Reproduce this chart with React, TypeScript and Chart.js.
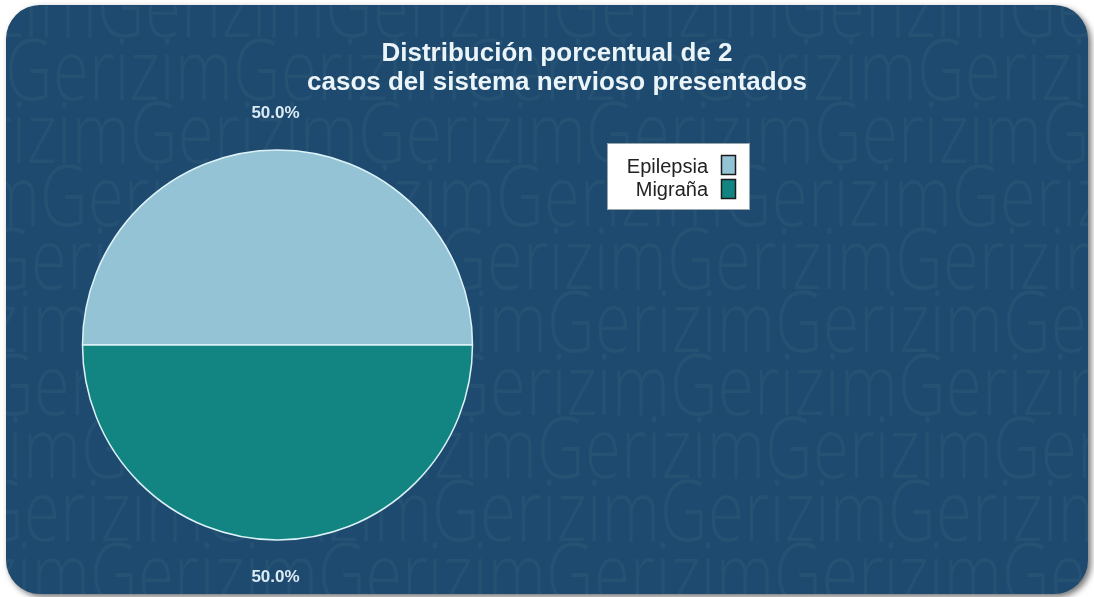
import React, { useEffect, useRef } from "react";
import { Chart, registerables } from "chart.js";

Chart.register(...registerables);

const categories = ["Epilepsia", "Migraña"];
const caseCounts = [1, 1];
const sliceColors = ["#93c3d4", "#128583"];
const titleLines = ["Distribución porcentual de 2", "casos del sistema nervioso presentados"];
const watermarkWord = "Gerizim";
const watermarkRowOffsets = [97, 5, 130, 40, 211, 91, 214, 81, 204, 90];

const W = 1094;
const H = 597;
const PANEL = { x: 6, y: 5, w: 1082, h: 589, r: 34 };

function roundRect(ctx: CanvasRenderingContext2D, x: number, y: number, w: number, h: number, r: number) {
  ctx.beginPath();
  ctx.moveTo(x + r, y);
  ctx.lineTo(x + w - r, y);
  ctx.arcTo(x + w, y, x + w, y + r, r);
  ctx.lineTo(x + w, y + h - r);
  ctx.arcTo(x + w, y + h, x + w - r, y + h, r);
  ctx.lineTo(x + r, y + h);
  ctx.arcTo(x, y + h, x, y + h - r, r);
  ctx.lineTo(x, y + r);
  ctx.arcTo(x, y, x + r, y, r);
  ctx.closePath();
}

const backgroundPlugin = {
  id: "panelBackground",
  beforeDraw(chart: any) {
    const ctx: CanvasRenderingContext2D = chart.ctx;
    ctx.save();
    ctx.fillStyle = "#ffffff";
    ctx.fillRect(0, 0, W, H);
    ctx.shadowColor = "rgba(0,0,0,0.55)";
    ctx.shadowBlur = 6;
    ctx.shadowOffsetX = 3;
    ctx.shadowOffsetY = 3;
    roundRect(ctx, PANEL.x, PANEL.y, PANEL.w, PANEL.h, PANEL.r);
    ctx.fillStyle = "#1d4a6e";
    ctx.fill();
    ctx.restore();

    // watermark
    ctx.save();
    roundRect(ctx, PANEL.x, PANEL.y, PANEL.w, PANEL.h, PANEL.r);
    ctx.clip();
    ctx.font = "300 84px 'Open Sans', 'Liberation Sans', sans-serif";
    ctx.fillStyle = "rgba(255,255,255,0.04)";
    ctx.textBaseline = "alphabetic";
    ctx.textAlign = "left";
    const period = 228;
    const sx = period / ctx.measureText(watermarkWord).width;
    watermarkRowOffsets.forEach((off, k) => {
      const y = 37 + 63 * k;
      for (let x = off - period * 2; x < W + period; x += period) {
        ctx.save();
        ctx.translate(x, y);
        ctx.scale(sx, 1);
        ctx.fillText(watermarkWord, 0, 0);
        ctx.restore();
      }
    });
    ctx.restore();

    // title
    ctx.save();
    ctx.font = "bold 26px 'Liberation Sans', Arial, sans-serif";
    ctx.fillStyle = "#eaf4f9";
    ctx.textAlign = "center";
    ctx.textBaseline = "alphabetic";
    ctx.fillText(titleLines[0], 557, 61);
    ctx.fillText(titleLines[1], 557, 90);
    ctx.restore();
  },
};

const overlayPlugin = {
  id: "labelsAndLegend",
  afterDraw(chart: any) {
    const ctx: CanvasRenderingContext2D = chart.ctx;
    const meta = chart.getDatasetMeta(0);
    const data: number[] = chart.data.datasets[0].data;
    const total = data.reduce((a, b) => a + b, 0);
    ctx.save();
    ctx.font = "bold 17px 'Liberation Sans', Arial, sans-serif";
    ctx.fillStyle = "#dcebf3";
    ctx.textAlign = "center";
    ctx.textBaseline = "middle";
    meta.data.forEach((arc: any, i: number) => {
      const p = arc.getProps(["x", "y", "startAngle", "endAngle", "outerRadius"], true);
      const mid = (p.startAngle + p.endAngle) / 2;
      const rr = p.outerRadius + 37;
      const tx = p.x + Math.cos(mid) * rr - 2;
      const ty = p.y + Math.sin(mid) * rr;
      ctx.fillText(((data[i] / total) * 100).toFixed(1) + "%", tx, ty);
    });
    ctx.restore();

    // legend
    ctx.save();
    const bx = 607, by = 143, bw = 143, bh = 67;
    ctx.fillStyle = "#ffffff";
    ctx.fillRect(bx, by, bw, bh);
    ctx.strokeStyle = "#9aa4ab";
    ctx.lineWidth = 1;
    ctx.strokeRect(bx + 0.5, by + 0.5, bw - 1, bh - 1);
    ctx.font = "normal 20px 'Liberation Sans', Arial, sans-serif";
    ctx.textAlign = "right";
    ctx.textBaseline = "alphabetic";
    const labels: string[] = chart.data.labels;
    const colors: string[] = chart.data.datasets[0].backgroundColor;
    labels.forEach((lab, i) => {
      const baseY = 173 + i * 23;
      ctx.fillStyle = "#222222";
      ctx.fillText(lab, 708, baseY);
      ctx.fillStyle = colors[i];
      ctx.fillRect(721, 155 + i * 24, 15, 20);
      ctx.strokeStyle = "#1a1a1a";
      ctx.lineWidth = 1.5;
      ctx.strokeRect(721.5, 155.5 + i * 24, 14, 19);
    });
    ctx.restore();
  },
};

export default function App() {
  const ref = useRef<HTMLCanvasElement | null>(null);
  useEffect(() => {
    document.body.style.margin = "0";
    const canvas = ref.current;
    if (!canvas) return;
    const chart = new Chart(canvas, {
      type: "pie",
      data: {
        labels: categories,
        datasets: [
          {
            data: caseCounts,
            backgroundColor: sliceColors,
            borderColor: "#dcf2f8",
            borderWidth: 1.5,
            radius: 195,
          } as any,
        ],
      },
      options: {
        animation: false,
        responsive: false,
        rotation: -90,
        layout: { padding: { top: 93, right: 539, left: 0, bottom: 0 } },
        plugins: {
          legend: { display: false },
          title: { display: false },
          tooltip: { enabled: false },
        },
      },
      plugins: [backgroundPlugin, overlayPlugin],
    });
    return () => chart.destroy();
  }, []);
  return (
    <div style={{ position: "absolute", left: 0, top: 0, width: W, height: H }}>
      <canvas ref={ref} width={W} height={H} style={{ width: W, height: H, display: "block" }} />
    </div>
  );
}
